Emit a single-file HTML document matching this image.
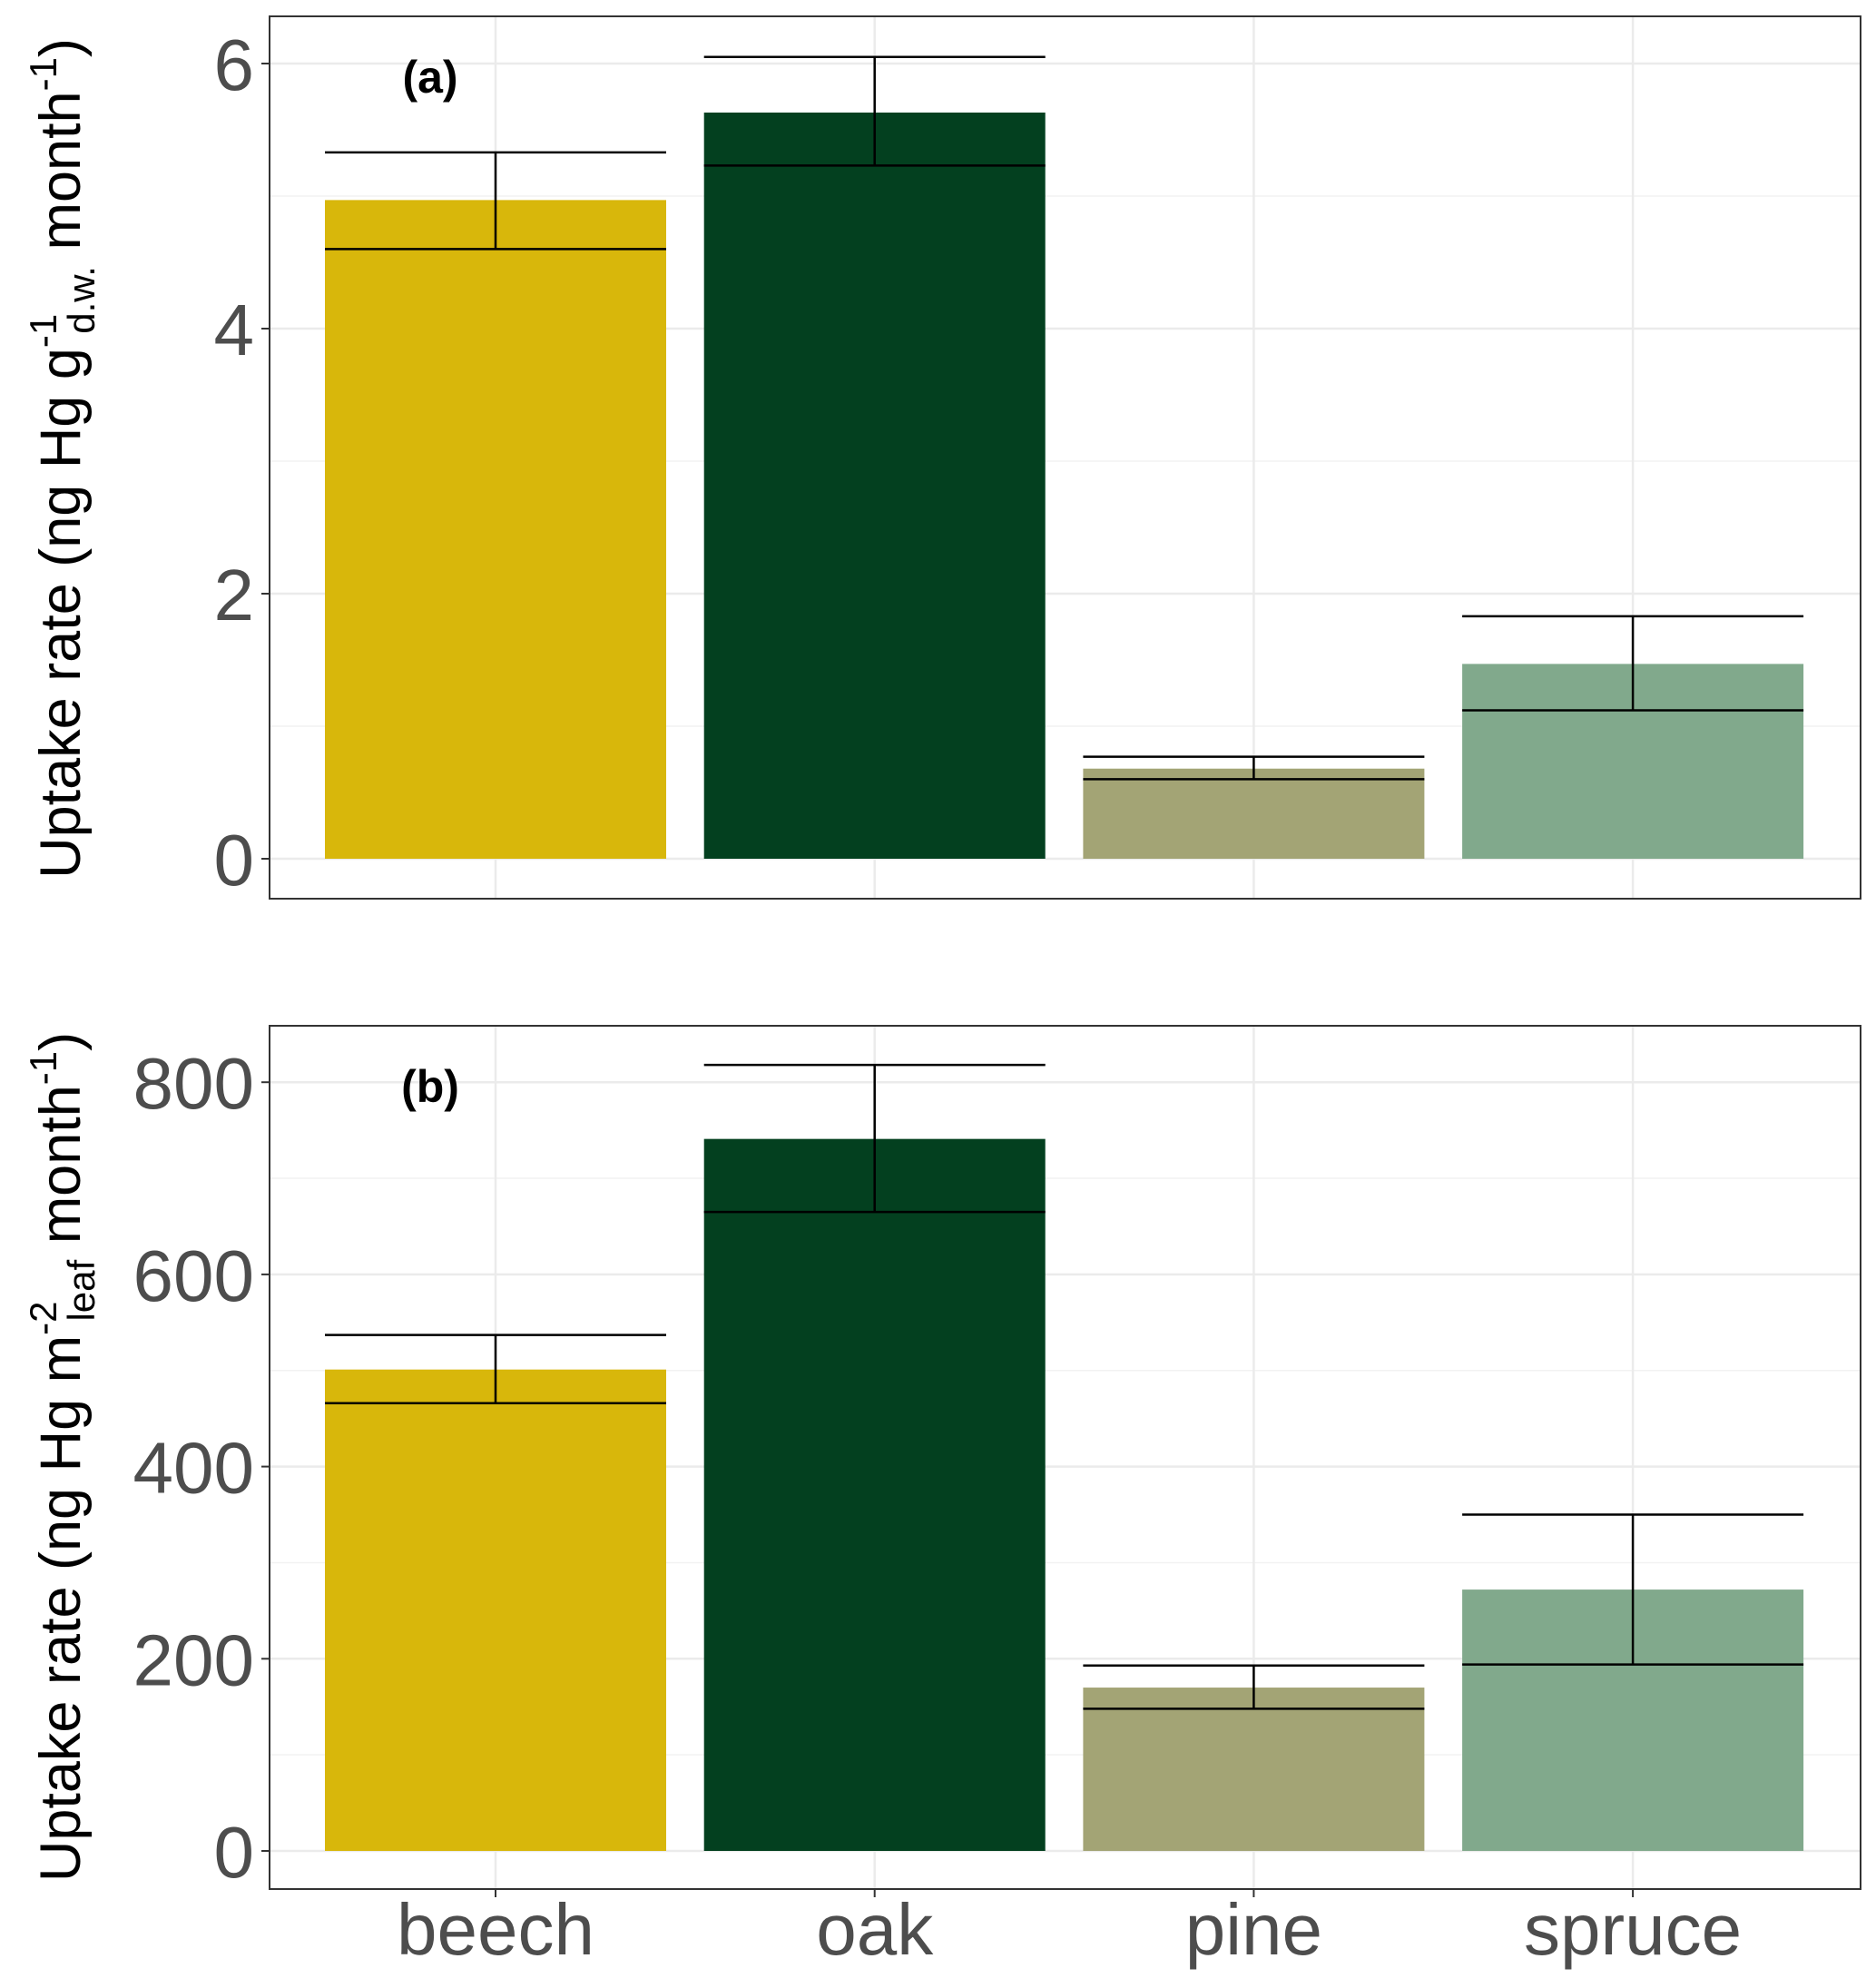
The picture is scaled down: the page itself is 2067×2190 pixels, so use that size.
<!DOCTYPE html>
<html><head><meta charset="utf-8"><style>
body{margin:0;background:#fff}
svg{display:block}
.tick{font-family:"Liberation Sans",sans-serif;font-size:80px;fill:#4d4d4d}
.ttl{font-family:"Liberation Sans",sans-serif;font-size:63px;fill:#000}
</style></head><body>
<svg id="chart" width="2067" height="2190" viewBox="0 0 2067 2190" xmlns="http://www.w3.org/2000/svg">
<rect width="2067" height="2190" fill="#fff"/>
<g id="pa"></g>
<g id="pb"></g>
<text class="ttl" transform="translate(88,505) rotate(-90)" text-anchor="middle">Uptake rate (ng Hg g<tspan dy="-26" font-size="42">-1</tspan><tspan dy="42" dx="-22" font-size="42">d.w.</tspan><tspan dy="-16"> month</tspan><tspan dy="-26" font-size="42">-1</tspan><tspan dy="26">)</tspan></text>
<text class="ttl" transform="translate(88,1605) rotate(-90)" text-anchor="middle">Uptake rate (ng Hg m<tspan dy="-26" font-size="42">-2</tspan><tspan dy="42" dx="-22" font-size="42">leaf</tspan><tspan dy="-16"> month</tspan><tspan dy="-26" font-size="42">-1</tspan><tspan dy="26">)</tspan></text>
</svg>
<script>
const categories=["beech","oak","pine","spruce"];
const colors=["#d8b70b","#03401f","#a3a475","#81a98c"];
const valuesA=[4.97,5.63,0.68,1.47];
const lowA=[4.6,5.23,0.6,1.12];
const highA=[5.33,6.05,0.77,1.83];
const ticksA=[0,2,4,6];
const valuesB=[501,741,170,272];
const lowB=[466,665,148,194];
const highB=[537,818,193,350];
const ticksB=[0,200,400,600,800];
const NS="http://www.w3.org/2000/svg";
const L=297,R=2050;
const xc=i=>546+i*417.7;
const bw=376;
function mk(p,tag,at){const e=document.createElementNS(NS,tag);for(const k in at)e.setAttribute(k,at[k]);p.appendChild(e);return e;}
function panel(g,top,bot,y0px,pxPerUnit,vals,lo,hi,ticks,label,showX){
  const y=v=>y0px-v*pxPerUnit;
  const step=ticks[1]-ticks[0];
  for(let k=0;k<ticks.length;k++){
    const m=ticks[k]+step/2;
    if(y(m)>top){const ln=mk(g,'line',{x1:L,x2:R,y1:y(m),y2:y(m),stroke:'#f2f2f2','stroke-width':1.5});
    
    }
  }
  ticks.forEach(t=>{
    const ln=mk(g,'line',{x1:L,x2:R,y1:y(t),y2:y(t),stroke:'#ebebeb','stroke-width':2.5});
    
    
    const tm=mk(g,'line',{x1:L-9,x2:L,y1:y(t),y2:y(t),stroke:'#333','stroke-width':2});
    
    
    const tx=mk(g,'text',{class:'tick',x:280,y:y(t)+29,'text-anchor':'end'});
    tx.textContent=t;
    
    
  });
  categories.forEach((c,i)=>{
    const vl=mk(g,'line',{x1:xc(i),x2:xc(i),y1:top,y2:bot,stroke:'#ebebeb','stroke-width':2.5});
    
    
  });
  categories.forEach((c,i)=>{
    const b=mk(g,'rect',{x:xc(i)-bw/2,y:y(vals[i]),width:bw,height:y(0)-y(vals[i]),fill:colors[i]});
    
    
    const e=mk(g,'g',{stroke:'#000','stroke-width':2.5});
    
    
    mk(e,'line',{x1:xc(i),x2:xc(i),y1:y(hi[i]),y2:y(lo[i])});
    mk(e,'line',{x1:xc(i)-bw/2,x2:xc(i)+bw/2,y1:y(hi[i]),y2:y(hi[i])});
    mk(e,'line',{x1:xc(i)-bw/2,x2:xc(i)+bw/2,y1:y(lo[i]),y2:y(lo[i])});
    if(showX){
      const tm=mk(g,'line',{x1:xc(i),x2:xc(i),y1:bot,y2:bot+9,stroke:'#333','stroke-width':2});
      
      
      const t=mk(g,'text',{class:'tick','text-anchor':'middle',x:xc(i),y:bot+72});
      t.textContent=c;
      
      
    }
  });
  const fr=mk(g,'rect',{x:L,y:top,width:R-L,height:bot-top,fill:'none',stroke:'#333','stroke-width':2});
  
  
  const pl=mk(g,'text',{x:474,y:top+84,'text-anchor':'middle','font-family':'Liberation Sans, sans-serif','font-weight':'bold','font-size':50});
  pl.textContent=label;
  
  
}
panel(document.getElementById('pa'),18,990,946,146.0,valuesA,lowA,highA,ticksA,'(a)',false);
panel(document.getElementById('pb'),1130,2081,2039,1.0585,valuesB,lowB,highB,ticksB,'(b)',true);
</script>
</body></html>
